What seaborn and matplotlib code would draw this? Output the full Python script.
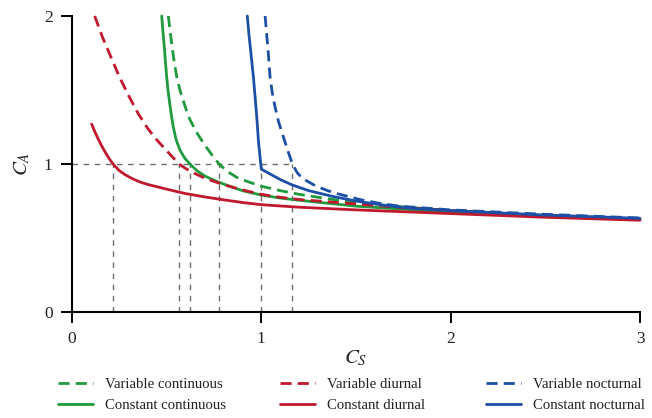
import numpy as np
import pandas as pd
import matplotlib
matplotlib.use("Agg")
import matplotlib.pyplot as plt
from matplotlib.lines import Line2D
import seaborn as sns

# ---- data ----
vc_x = [0.509, 0.518, 0.53, 0.54, 0.553, 0.57, 0.59, 0.605, 0.623, 0.66, 0.70, 0.74, 0.777,
        0.82, 0.87, 0.93, 1.0, 1.1, 1.2, 1.35, 1.5, 1.75, 2.0, 2.5, 3.0]
vc_y = [2.0, 1.9, 1.78, 1.69, 1.59, 1.50, 1.42, 1.36, 1.30, 1.21, 1.13, 1.06, 1.0,
        0.95, 0.91, 0.88, 0.85, 0.82, 0.795, 0.765, 0.74, 0.71, 0.685, 0.65, 0.628]

cc_x = [0.474, 0.48, 0.487, 0.493, 0.50, 0.507, 0.515, 0.525, 0.535, 0.55, 0.57, 0.595,
        0.623, 0.66, 0.7, 0.75, 0.8, 0.9, 1.0, 1.1, 1.2, 1.35, 1.5, 1.75, 2.0, 2.5, 3.0]
cc_y = [2.0, 1.9, 1.8, 1.7, 1.59, 1.5, 1.42, 1.33, 1.25, 1.165, 1.095, 1.04,
        1.0, 0.955, 0.92, 0.89, 0.865, 0.82, 0.79, 0.77, 0.755, 0.735, 0.715, 0.695, 0.675, 0.645, 0.625]

vd_x = [0.12, 0.16, 0.2, 0.25, 0.3, 0.35, 0.4, 0.45, 0.5, 0.565, 0.6, 0.65, 0.7, 0.8, 0.9,
        1.0, 1.1, 1.2, 1.35, 1.5, 1.75, 2.0, 2.5, 3.0]
vd_y = [2.0, 1.86, 1.74, 1.59, 1.46, 1.34, 1.24, 1.16, 1.09, 1.0, 0.97, 0.935, 0.905, 0.86, 0.825,
        0.795, 0.775, 0.76, 0.745, 0.73, 0.705, 0.685, 0.65, 0.625]

cd_x = [0.104, 0.12, 0.14, 0.16, 0.18, 0.2, 0.22, 0.25, 0.28, 0.32, 0.36, 0.4, 0.5, 0.6, 0.7,
        0.8, 0.9, 1.0, 1.2, 1.5, 2.0, 2.5, 3.0]
cd_y = [1.27, 1.22, 1.165, 1.115, 1.07, 1.03, 0.995, 0.955, 0.928, 0.9, 0.878, 0.862, 0.83, 0.80, 0.778,
        0.758, 0.74, 0.725, 0.708, 0.69, 0.665, 0.64, 0.62]

vn_x = [1.02, 1.028, 1.035, 1.046, 1.058, 1.07, 1.09, 1.116, 1.14, 1.164, 1.19, 1.22, 1.29,
        1.35, 1.4, 1.52, 1.62, 1.73, 2.0, 2.5, 3.0]
vn_y = [2.0, 1.88, 1.78, 1.59, 1.48, 1.40, 1.29, 1.185, 1.09, 1.0, 0.94, 0.90, 0.85,
        0.82, 0.80, 0.76, 0.735, 0.715, 0.69, 0.66, 0.635]

cn_x = [0.926, 0.935, 0.945, 0.958, 0.968, 0.977, 0.985, 0.993, 1.0, 1.05, 1.1, 1.16, 1.25,
        1.38, 1.5, 1.65, 1.8, 2.0, 2.5, 3.0]
cn_y = [2.0, 1.87, 1.75, 1.59, 1.44, 1.3, 1.15, 1.05, 0.965, 0.93, 0.895, 0.86, 0.82,
        0.78, 0.75, 0.72, 0.70, 0.685, 0.655, 0.633]

guide_x = [0.218, 0.565, 0.623, 0.777, 1.0, 1.164]
guide_level = 1.0

x_ticks = [0, 1, 2, 3]
y_ticks = [0, 1, 2]

GREEN = "#1f9a3c"
RED = "#c0182c"
BLUE = "#1c4fa6"

series = [
    ("Variable continuous", vc_x, vc_y, GREEN, "--"),
    ("Constant continuous", cc_x, cc_y, GREEN, "-"),
    ("Variable diurnal", vd_x, vd_y, RED, "--"),
    ("Constant diurnal", cd_x, cd_y, RED, "-"),
    ("Variable nocturnal", vn_x, vn_y, BLUE, "--"),
    ("Constant nocturnal", cn_x, cn_y, BLUE, "-"),
]

sns.set_theme(style="ticks")
plt.rcParams["font.family"] = ["Liberation Serif", "DejaVu Serif"]
plt.rcParams["mathtext.fontset"] = "stix"

fig = plt.figure(figsize=(6.52, 4.18), dpi=100)
ax = fig.add_axes([0.1104, 0.2536, 0.8712, 0.7081])

# guide lines
for gx in guide_x:
    ax.plot([gx, gx], [0, guide_level], color="#6e6e6e", lw=1.0,
            dashes=(4, 4), zorder=1)
ax.plot([0, max(guide_x)], [guide_level, guide_level], color="#6e6e6e", lw=1.0,
        dashes=(4, 4), zorder=1)

LW = 2.0
DASH = (4.0, 2.2)
handles = {}
for name, xs, ys, col, ls in series:
    df = pd.DataFrame({"x": xs, "y": ys})
    kw = dict(dashes=DASH) if ls == "--" else dict(linestyle="-")
    sns.lineplot(data=df, x="x", y="y", ax=ax, color=col, sort=False,
                 estimator=None, lw=LW, zorder=3, **kw)
    handles[name] = Line2D([], [], color=col, lw=LW, **kw)

ax.set_xlim(0, 3)
ax.set_ylim(0, 2)
ax.set_xticks(x_ticks)
ax.set_yticks(y_ticks)
ax.set_xticklabels([str(t) for t in x_ticks])
ax.set_yticklabels([str(t) for t in y_ticks])
sns.despine(ax=ax)
for s in ("left", "bottom"):
    ax.spines[s].set_linewidth(1.5)
    ax.spines[s].set_color("black")
ax.tick_params(axis="both", length=8, width=1.4, color="black",
               labelsize=12.5, labelcolor="#222222", pad=6)
ax.set_xlabel("$C_S$", fontsize=15, labelpad=1)
ax.set_ylabel("$C_A$", fontsize=15, labelpad=8)
for ln in ax.lines:
    ln.set_clip_on(False)

# legend: three columns, each its own legend
col_anchor = [58 / 652, 280 / 652, 486 / 652]
pairs = [("Variable continuous", "Constant continuous"),
         ("Variable diurnal", "Constant diurnal"),
         ("Variable nocturnal", "Constant nocturnal")]
for xa, (a, b) in zip(col_anchor, pairs):
    lg = fig.legend([handles[a], handles[b]], [a, b], loc="upper left",
                    bbox_to_anchor=(xa, 1 - 378 / 418), frameon=False,
                    borderpad=0, borderaxespad=0, handlelength=2.4,
                    handletextpad=0.8, labelspacing=0.5, fontsize=10.6)
    for t in lg.get_texts():
        t.set_color("#222222")

fig.savefig("out.png", dpi=100)
